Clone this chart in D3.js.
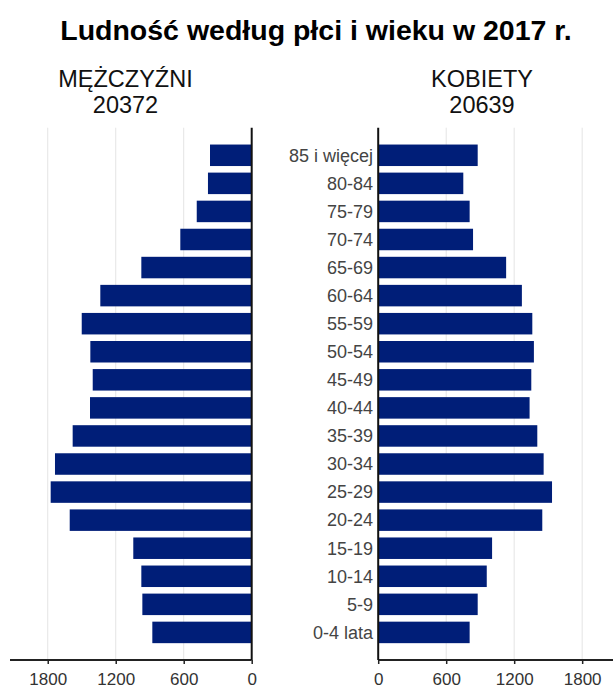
<!DOCTYPE html>
<html><head><meta charset="utf-8">
<script src="https://cdn.jsdelivr.net/npm/d3@7"></script>
<style>body{margin:0;background:#fff}svg{display:block;font-family:"Liberation Sans",Arial,sans-serif}</style>
</head><body><svg id="c" width="613" height="689"></svg>
<script>
const title = "Ludność według płci i wieku w 2017 r.";
const seriesNames = ["MĘŻCZYŹNI", "KOBIETY"];
const totals = [20372, 20639];
const ageGroups = ["85 i więcej","80-84","75-79","70-74","65-69","60-64","55-59","50-54","45-49","40-44","35-39","30-34","25-29","20-24","15-19","10-14","5-9","0-4 lata"];
const men   = [368,386,485,630,974,1336,1500,1424,1403,1427,1580,1736,1774,1606,1045,974,965,877];
const women = [878,751,807,837,1129,1268,1360,1374,1351,1336,1404,1460,1534,1448,1005,958,878,807];
const tickValues = [0,600,1200,1800];

(function () {
const svg = d3.select("#c");
const W = 613;
const plotTop = 127.7, plotBottom = 660;
const maxV = 2133;
const xL = d3.scaleLinear().domain([0, maxV]).range([251.7, 10]);
const xR = d3.scaleLinear().domain([0, maxV]).range([378.2, 378.2 + 241.7]);
const y = d3.scaleBand().domain(ageGroups).range([plotTop, plotBottom]).paddingInner(0.234).paddingOuter(0.6);
const barColor = "#001e78";

// grid lines
[xL, xR].forEach(x => {
  svg.append("g").selectAll("line").data(tickValues.filter(v => v > 0)).join("line")
    .attr("x1", d => x(d)).attr("x2", d => x(d)).attr("y1", plotTop).attr("y2", plotBottom)
    .attr("stroke", "#e4e4e4").attr("stroke-width", 1);
});

// bars
svg.append("g").selectAll("rect").data(men).join("rect")
  .attr("x", d => xL(d)).attr("width", d => xL(0) - xL(d))
  .attr("y", (d, i) => y(ageGroups[i])).attr("height", y.bandwidth())
  .attr("fill", barColor);
svg.append("g").selectAll("rect").data(women).join("rect")
  .attr("x", xR(0)).attr("width", d => xR(d) - xR(0))
  .attr("y", (d, i) => y(ageGroups[i])).attr("height", y.bandwidth())
  .attr("fill", barColor);

// axes
function styleAxis(g) {
  g.select(".domain").remove();
  g.selectAll(".tick line").attr("stroke", "#222").attr("stroke-width", 1.5);
  g.selectAll(".tick text").attr("fill", "#333").attr("font-size", "17px")
    .attr("font-family", '"Liberation Sans",Arial,sans-serif').attr("dy", "0").attr("y", 25);
}
const axL = svg.append("g").attr("transform", `translate(0,${plotBottom})`)
  .call(d3.axisBottom(xL).tickValues(tickValues).tickSize(4).tickPadding(6).tickFormat(d3.format("d")));
styleAxis(axL);
const axR = svg.append("g").attr("transform", `translate(0,${plotBottom})`)
  .call(d3.axisBottom(xR).tickValues(tickValues).tickSize(4).tickPadding(6).tickFormat(d3.format("d")));
styleAxis(axR);

// axis lines
svg.append("line").attr("x1", 10).attr("x2", xL(0)).attr("y1", plotBottom).attr("y2", plotBottom).attr("stroke", "#222").attr("stroke-width", 2);
svg.append("line").attr("x1", xR(0)).attr("x2", W).attr("y1", plotBottom).attr("y2", plotBottom).attr("stroke", "#222").attr("stroke-width", 2);
svg.append("line").attr("x1", xL(0)).attr("x2", xL(0)).attr("y1", plotTop).attr("y2", plotBottom).attr("stroke", "#111").attr("stroke-width", 2);
svg.append("line").attr("x1", xR(0)).attr("x2", xR(0)).attr("y1", plotTop).attr("y2", plotBottom).attr("stroke", "#111").attr("stroke-width", 2);

// category labels
svg.append("g").selectAll("text").data(ageGroups).join("text")
  .attr("x", 373).attr("y", d => y(d) + y.bandwidth() / 2 + 6.3)
  .attr("text-anchor", "end").attr("font-size", "18px").attr("fill", "#444")
  .text(d => d);

// title
svg.append("text").attr("x", 316).attr("y", 40)
  .attr("text-anchor", "middle").attr("font-weight", "bold").attr("font-size", "28.5px").attr("fill", "#000")
  .text(title);

// headers
const hx = [125.5, 482];
seriesNames.forEach((n, i) => {
  svg.append("text").attr("x", hx[i]).attr("y", 87)
    .attr("text-anchor", "middle").attr("font-size", "23.5px").attr("fill", "#111").text(n);
  svg.append("text").attr("x", hx[i]).attr("y", 113)
    .attr("text-anchor", "middle").attr("font-size", "23.5px").attr("fill", "#111").text(totals[i]);
});
})();
</script></body></html>
